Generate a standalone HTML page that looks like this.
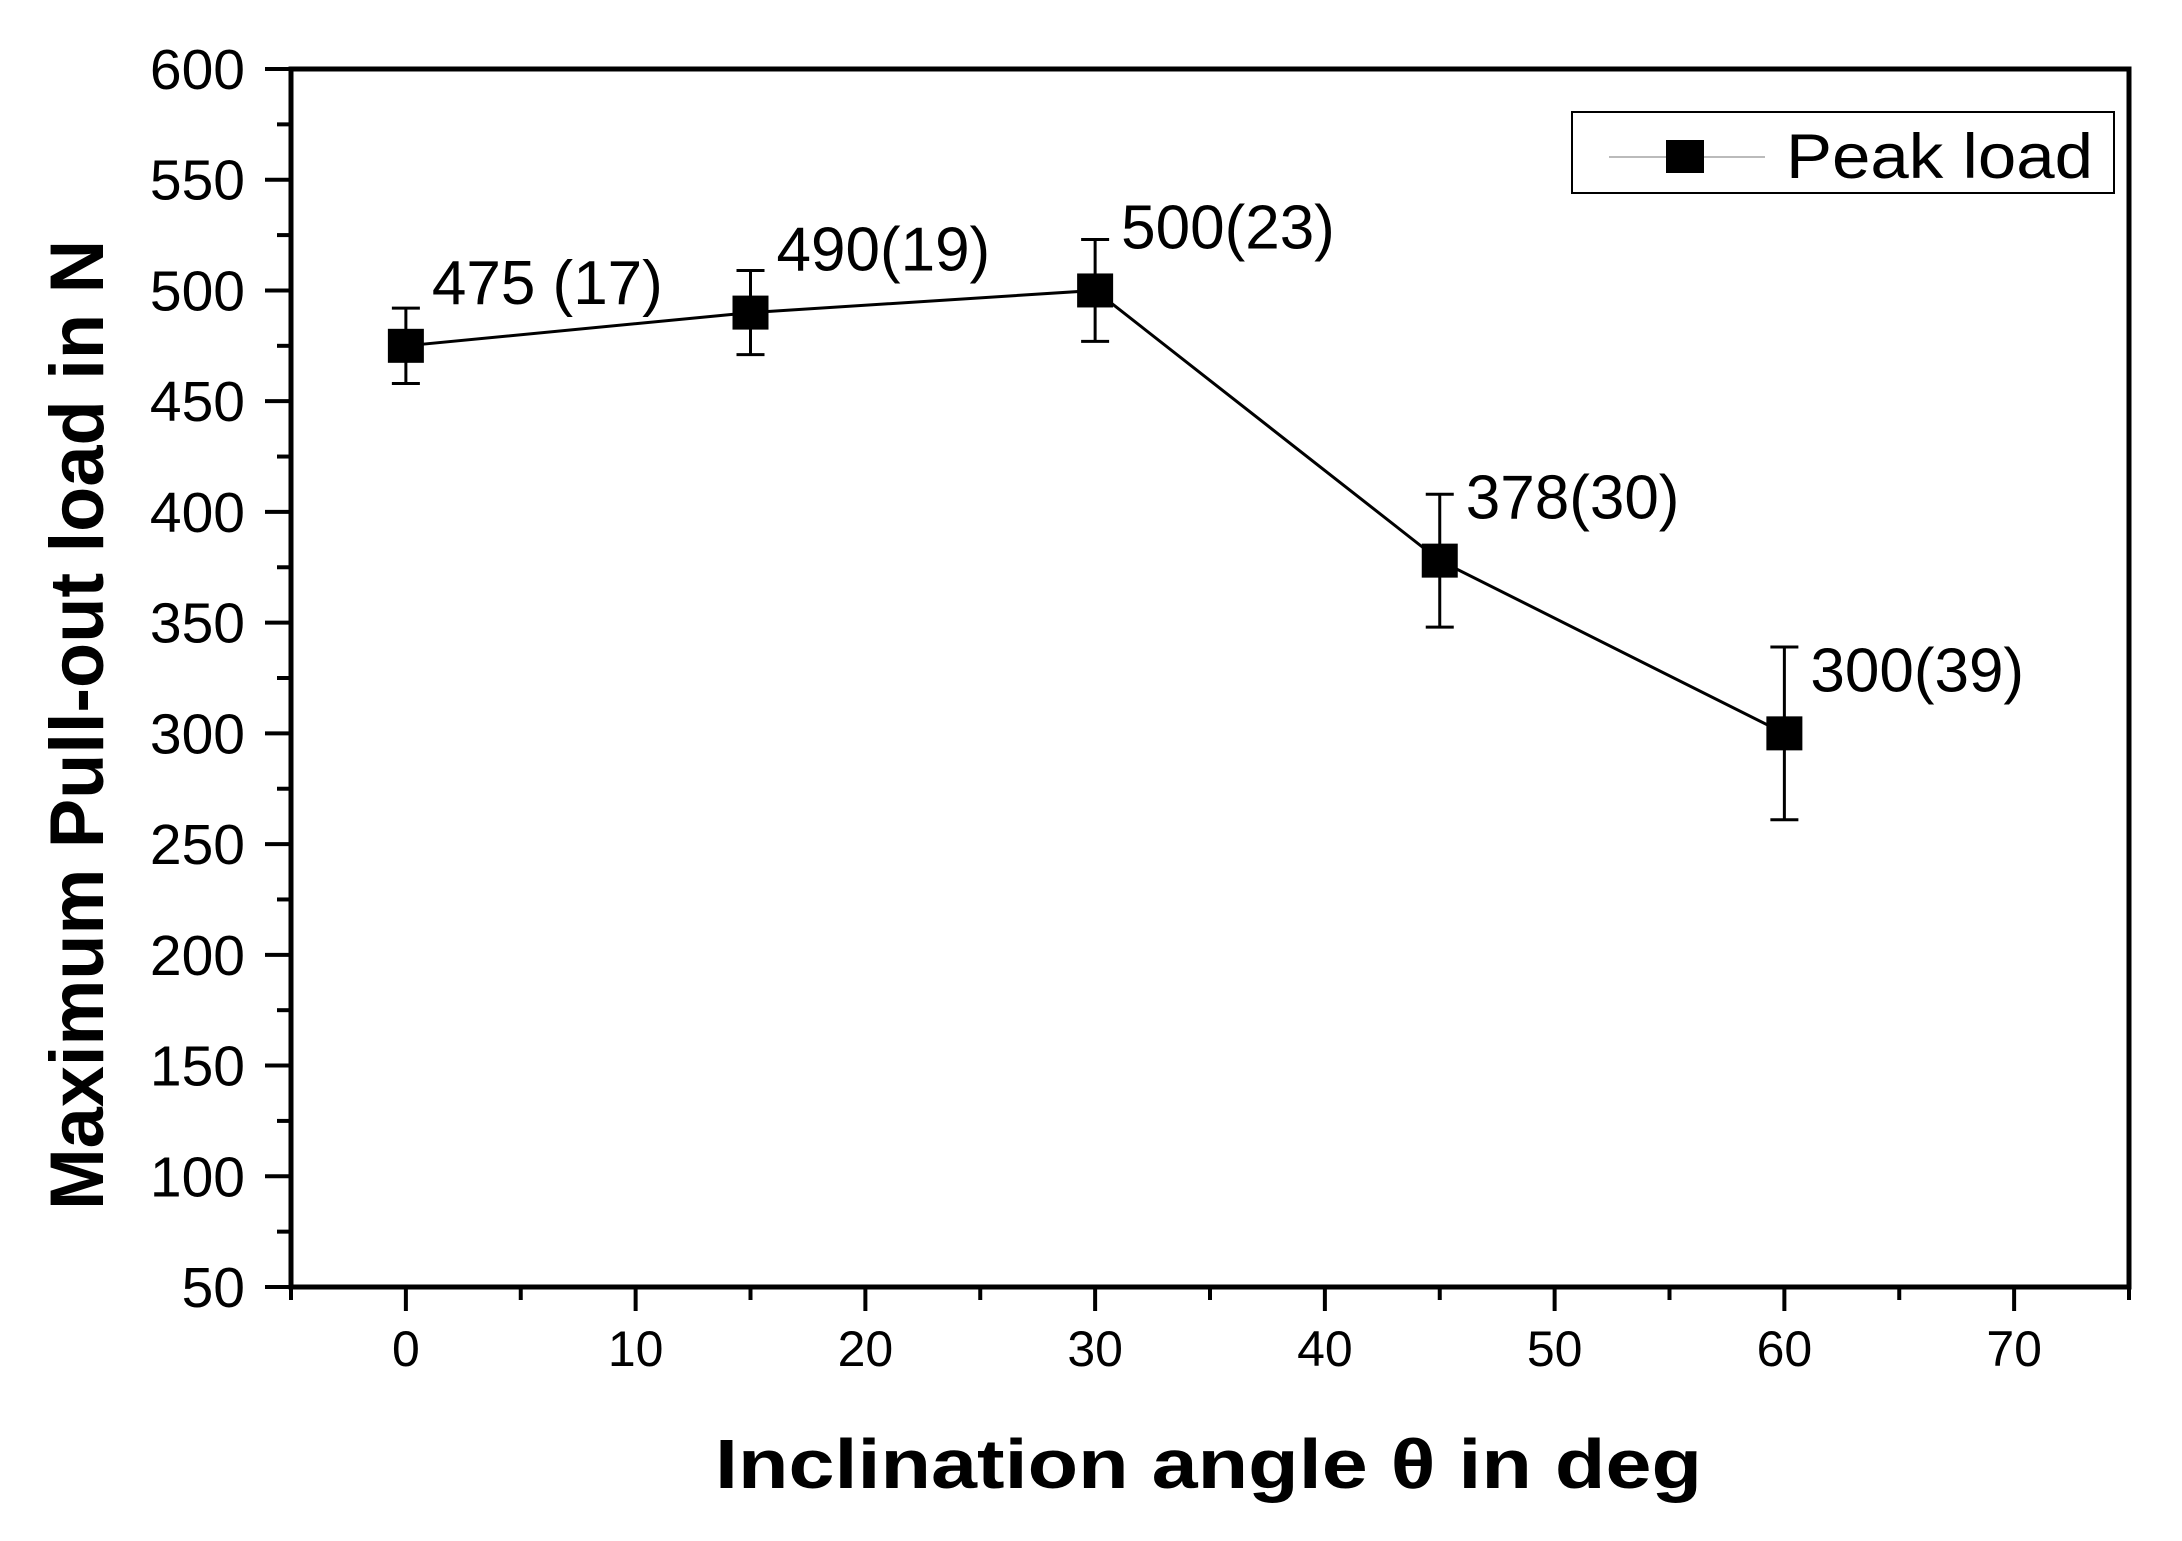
<!DOCTYPE html>
<html><head><meta charset="utf-8"><style>
html,body{margin:0;padding:0;background:#fff;}
svg{display:block;}
text{font-family:"Liberation Sans",Arial,sans-serif;fill:#000;}
</style></head><body>
<svg id="chart" width="2182" height="1541" viewBox="0 0 2182 1541" xmlns="http://www.w3.org/2000/svg">
<g id="axes"></g>
<g id="series"></g>
<text x="103" y="725" transform="rotate(-90 103 725)" text-anchor="middle" font-size="76" font-weight="bold" textLength="970" lengthAdjust="spacingAndGlyphs">Maximum Pull-out load in N</text>
<text x="715" y="1488" font-size="70" font-weight="bold" textLength="987" lengthAdjust="spacingAndGlyphs">Inclination angle θ in deg</text>
<g>
<rect x="1572" y="112" width="542" height="81" fill="#fff" stroke="#000" stroke-width="2"/>
<line x1="1609" y1="157" x2="1765" y2="157" stroke="#bbb" stroke-width="2"/>
<rect x="1666" y="140" width="38" height="33" fill="#000"/>
<text x="1786" y="178" font-size="63" textLength="307" lengthAdjust="spacingAndGlyphs">Peak load</text>
</g>
</svg>
<script>
const angles = [0, 15, 30, 45, 60];
const loads = [475, 490, 500, 378, 300];
const errors = [17, 19, 23, 30, 39];
const pointLabels = ["475 (17)", "490(19)", "500(23)", "378(30)", "300(39)"];
const yTicks = [50, 100, 150, 200, 250, 300, 350, 400, 450, 500, 550, 600];
const xTicks = [0, 10, 20, 30, 40, 50, 60, 70];

const NS = "http://www.w3.org/2000/svg";
const X0 = 291, X1 = 2129, Y0 = 1287, Y1 = 69;
const xMin = -5, xMax = 75, yMin = 50, yMax = 600;
function sx(v){ return X0 + (v - xMin) / (xMax - xMin) * (X1 - X0); }
function sy(v){ return Y0 - (v - yMin) / (yMax - yMin) * (Y0 - Y1); }
function mk(tag, attrs, parent){
  const e = document.createElementNS(NS, tag);
  for (const k in attrs) e.setAttribute(k, attrs[k]);
  parent.appendChild(e);
  return e;
}
const axes = document.getElementById('axes');
const series = document.getElementById('series');

let frame = mk('rect', {x:X0, y:Y1, width:X1-X0, height:Y0-Y1, fill:'none', stroke:'#000', 'stroke-width':5}, axes);



yTicks.forEach((v, i) => {
  const y = sy(v);
  let t = mk('line', {x1:X0-26, y1:y, x2:X0, y2:y, stroke:'#000', 'stroke-width':4}, axes);
  
  
  if (i < yTicks.length - 1) {
    const ym = sy(v + 25);
    let m = mk('line', {x1:X0-14, y1:ym, x2:X0, y2:ym, stroke:'#000', 'stroke-width':4}, axes);
    
    
  }
  let l = mk('text', {x:245, y:y+20, 'text-anchor':'end', 'font-size':57}, axes);
  l.textContent = v;
  
  
});

xTicks.forEach((v) => {
  const x = sx(v);
  let t = mk('line', {x1:x, y1:Y0, x2:x, y2:Y0+24, stroke:'#000', 'stroke-width':4}, axes);
  
  
  let l = mk('text', {x:x, y:1366, 'text-anchor':'middle', 'font-size':50}, axes);
  l.textContent = v;
  
  
});
for (let v = xMin; v <= xMax; v += 10) {
  const x = sx(v);
  let m = mk('line', {x1:x, y1:Y0, x2:x, y2:Y0+13, stroke:'#000', 'stroke-width':4}, axes);
  
  
}

const pts = angles.map((a, i) => sx(a) + ',' + sy(loads[i])).join(' ');
let pl = mk('polyline', {points:pts, fill:'none', stroke:'#000', 'stroke-width':3}, series);



angles.forEach((a, i) => {
  const x = sx(a), y = sy(loads[i]);
  const yt = sy(loads[i] + errors[i]), yb = sy(loads[i] - errors[i]);
  let e = mk('path', {d:`M${x},${yt}V${yb}M${x-14},${yt}H${x+14}M${x-14},${yb}H${x+14}`, stroke:'#000', 'stroke-width':3, fill:'none'}, series);
  
  
  let p = mk('rect', {x:x-18, y:y-17, width:36, height:34, fill:'#000'}, series);
  
  
  let l = mk('text', {x:x+26, y:y-42, 'font-size':62}, series);
  l.textContent = pointLabels[i];
  
  
});
</script>
</body></html>
